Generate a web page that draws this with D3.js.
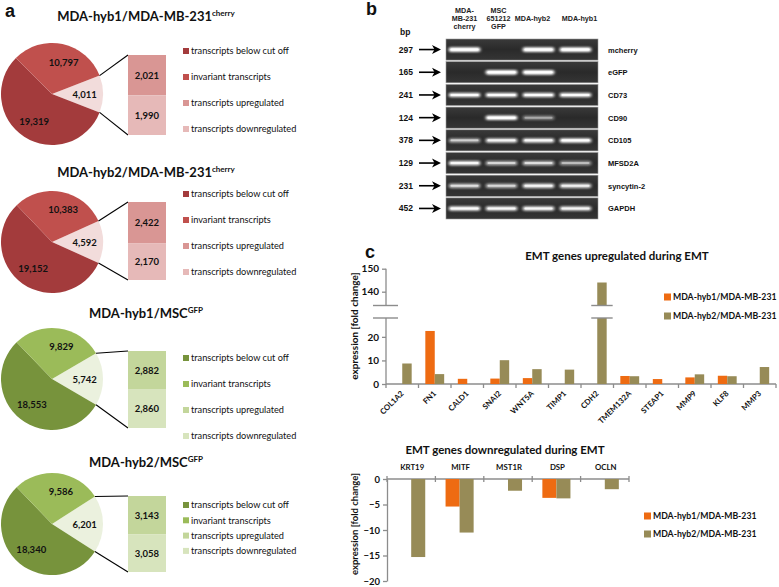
<!DOCTYPE html>
<html><head><meta charset="utf-8">
<script src="https://cdn.jsdelivr.net/npm/d3@7"></script>
<style>
body{margin:0;background:#fff;}
svg{display:block;}
</style></head><body>
<svg id="chart" width="779" height="587"></svg>
<script>
// ---------------- data ----------------
const pieTitleMain = ["MDA-hyb1/MDA-MB-231","MDA-hyb2/MDA-MB-231","MDA-hyb1/MSC","MDA-hyb2/MSC"];
const pieTitleSup = ["cherry","cherry","GFP","GFP"];
const belowCutOff = [19319,19152,18553,18340];
const invariant = [10797,10383,9829,9586];
const upregulated = [2021,2422,2882,3143];
const downregulated = [1990,2170,2860,3058];
const pieLegendLabels = ["transcripts below cut off","invariant transcripts","transcripts upregulated","transcripts downregulated"];

const gelLanes = [["MDA-","MB-231","cherry"],["MSC","651212","GFP"],["MDA-hyb2"],["MDA-hyb1"]];
const gelGenes = ["mcherry","eGFP","CD73","CD90","CD105","MFSD2A","syncytin-2","GAPDH"];
const gelBp = ["297","165","241","124","378","129","231","452"];
const gelBands = [
  [1.0,0.0,1.0,1.0],
  [0.0,1.0,1.0,0.0],
  [0.9,0.9,0.9,0.9],
  [0.0,1.0,0.3,0.0],
  [0.5,0.8,0.85,0.95],
  [0.85,0.55,0.6,0.4],
  [0.6,0.55,0.8,0.75],
  [0.9,0.85,0.85,0.8]
];

const upGenes = ["COL1A2","FN1","CALD1","SNAI2","WNT5A","TIMP1","CDH2","TMEM132A","STEAP1","MMP9","KLF8","MMP3"];
const upHyb1 = [null,22.5,2.2,2.3,2.5,null,null,3.4,2.1,2.8,3.5,null];
const upHyb2 = [8.7,4.2,null,10.1,6.3,6.1,144,3.3,null,4.1,3.3,7.2];
const upTicksLow = [0,10,20];
const upTicksHigh = [140,150];

const downGenes = ["KRT19","MITF","MST1R","DSP","OCLN"];
const downHyb1 = [null,-5.4,null,-3.7,null];
const downHyb2 = [-15.3,-10.5,-2.3,-3.8,-2.0];
const downTicks = [0,-5,-10,-15,-20];
const seriesNames = ["MDA-hyb1/MDA-MB-231","MDA-hyb2/MDA-MB-231"];

// ---------------- drawing ----------------
const svg = d3.select("#chart");
const CAL = "Lato, 'Open Sans', sans-serif";
const ARI = "'Liberation Sans', Arial, sans-serif";
const fmt = d3.format(",");
const seriesColors = ["#ee6b12","#978b57"];

[["a",5,17],["b",366,15],["c",365,258]].forEach(([t,x,y])=>{
  svg.append("text").attr("x",x).attr("y",y).text(t)
    .attr("font-family",ARI).attr("font-weight","bold").attr("font-size",18).attr("fill","#111");
});

// ---------- panel a ----------
const redPal = {below:"#a33b3c", inv:"#c0504d", up:"#d99694", down:"#e6b9b8", other:"#f2dcdb"};
const greenPal = {below:"#77933c", inv:"#9bbb59", up:"#c3d69b", down:"#d7e4bd", other:"#ebf1de"};
const pieCX = 52, pieR = 51;
const pieCY = [94,242,379,524];
const titleY = [21,177,318,467];
const barTop = [55,202,351,496], barH = [80,78,77,76], barX = 128, barW = 38;
const legTop = [51,194,358,505], legStep = [26,26,26,15.3];

for (let i=0;i<4;i++){
  const pal = i<2 ? redPal : greenPal;
  const other = upregulated[i]+downregulated[i];
  const total = belowCutOff[i]+invariant[i]+other;
  const oa = 2*Math.PI*other/total;
  const s = Math.PI/2 - oa/2;
  const vals = [{v:other,c:pal.other},{v:belowCutOff[i],c:pal.below},{v:invariant[i],c:pal.inv}];
  const arcs = d3.pie().sort(null).value(d=>d.v).startAngle(s).endAngle(s+2*Math.PI)(vals);
  const g = svg.append("g").attr("transform",`translate(${pieCX},${pieCY[i]})`);
  const arc = d3.arc().innerRadius(0).outerRadius(pieR);
  g.selectAll("path").data(arcs).join("path").attr("d",arc).attr("fill",d=>d.data.c);
  const lab = d3.arc().innerRadius(pieR*0.64).outerRadius(pieR*0.64);
  g.selectAll("text").data(arcs).join("text")
    .attr("transform",(d,j)=>{const c=lab.centroid(d); return `translate(${c[0]+(j===2?5:0)},${c[1]+3.5})`;})
    .attr("text-anchor","middle").attr("font-family",CAL).attr("font-weight","bold")
    .attr("font-size",9.5).attr("fill","#111").text(d=>fmt(d.data.v));

  const p1 = [pieCX + pieR*Math.sin(s), pieCY[i] - pieR*Math.cos(s)];
  const p2 = [pieCX + pieR*Math.sin(s+oa), pieCY[i] - pieR*Math.cos(s+oa)];
  svg.append("line").attr("x1",p1[0]).attr("y1",p1[1]).attr("x2",barX).attr("y2",barTop[i])
    .attr("stroke","#000").attr("stroke-width",1.1);
  svg.append("line").attr("x1",p2[0]).attr("y1",p2[1]).attr("x2",barX).attr("y2",barTop[i]+barH[i])
    .attr("stroke","#000").attr("stroke-width",1.1);

  const by = d3.scaleLinear().domain([0,other]).range([barTop[i], barTop[i]+barH[i]]);
  const segs = [{a:0,b:upregulated[i],c:pal.up,v:upregulated[i]},
                {a:upregulated[i],b:other,c:pal.down,v:downregulated[i]}];
  segs.forEach(sg=>{
    svg.append("rect").attr("x",barX).attr("width",barW).attr("y",by(sg.a))
      .attr("height",by(sg.b)-by(sg.a)).attr("fill",sg.c);
    svg.append("text").attr("x",barX+barW/2).attr("y",(by(sg.a)+by(sg.b))/2+3.5)
      .attr("text-anchor","middle").attr("font-family",CAL).attr("font-weight","bold")
      .attr("font-size",9.5).attr("fill","#111").text(fmt(sg.v));
  });

  const t = svg.append("text").attr("x",146).attr("y",titleY[i]).attr("text-anchor","middle")
    .attr("font-family",CAL).attr("font-weight","bold").attr("fill","#111");
  t.append("tspan").attr("font-size",13).text(pieTitleMain[i]);
  t.append("tspan").attr("font-size",8).attr("dy",-5).text(pieTitleSup[i]);

  const legCols = [pal.below,pal.inv,pal.up,pal.down];
  pieLegendLabels.forEach((l,j)=>{
    const yy = legTop[i]+j*legStep[i];
    svg.append("rect").attr("x",183).attr("y",yy-3).attr("width",6).attr("height",6).attr("fill",legCols[j]);
    svg.append("text").attr("x",191).attr("y",yy+3.3).attr("font-family",CAL)
      .attr("font-size",9.2).attr("fill","#111").text(l);
  });
}

// ---------- panel b: gel ----------
const defs = svg.append("defs");
const f = defs.append("filter").attr("id","blur").attr("x","-30%").attr("y","-150%").attr("width","160%").attr("height","400%");
f.append("feGaussianBlur").attr("stdDeviation","1.6 1.1");
const gg = defs.append("linearGradient").attr("id","gelbg").attr("x1",0).attr("y1",0).attr("x2",0).attr("y2",1);
gg.append("stop").attr("offset","0%").attr("stop-color","#3a3a3a");
gg.append("stop").attr("offset","50%").attr("stop-color","#2a2a2a");
gg.append("stop").attr("offset","100%").attr("stop-color","#353535");

const laneX = d3.scaleBand().domain(d3.range(gelLanes.length)).range([446,594]);
const rowY = d3.scaleBand().domain(gelGenes).range([39,219]).paddingInner(0.07);
const headerShift = [0,-3,-6,4];

svg.append("text").attr("x",400).attr("y",35).text("bp").attr("font-family",ARI)
  .attr("font-weight","bold").attr("font-size",8.5).attr("fill","#111");
gelLanes.forEach((lines,k)=>{
  const cx = laneX(k)+laneX.bandwidth()/2+headerShift[k];
  const y0 = lines.length===1 ? 21 : 13;
  lines.forEach((ln,m)=>{
    svg.append("text").attr("x",cx).attr("y",y0+m*8).attr("text-anchor","middle")
      .attr("font-family",ARI).attr("font-weight","bold").attr("font-size",7.2)
      .attr("fill","#222").text(ln);
  });
});

gelGenes.forEach((gname,r)=>{
  const y = rowY(gname), h = rowY.bandwidth(), cy = y+h/2;
  svg.append("rect").attr("x",446).attr("y",y).attr("width",152).attr("height",h)
    .attr("fill","url(#gelbg)").attr("stroke","#9a9a9a").attr("stroke-width",0.6);
  gelBands[r].forEach((v,k)=>{
    if (v<=0) return;
    const cx = laneX(k)+laneX.bandwidth()/2;
    svg.append("rect").attr("x",cx-16).attr("y",cy-2.2).attr("width",32).attr("height",4.6)
      .attr("rx",2.3).attr("fill","#ffffff").attr("opacity",0.15+0.85*v).attr("filter","url(#blur)");
    svg.append("rect").attr("x",cx-14).attr("y",cy-1).attr("width",28).attr("height",2)
      .attr("rx",1).attr("fill","#ffffff").attr("opacity",0.1+0.8*v);
  });
  svg.append("text").attr("x",413).attr("y",cy+3).attr("text-anchor","end").attr("font-family",ARI)
    .attr("font-weight","bold").attr("font-size",8.5).attr("fill","#111").text(gelBp[r]);
  svg.append("line").attr("x1",419).attr("y1",cy).attr("x2",437).attr("y2",cy)
    .attr("stroke","#000").attr("stroke-width",1.6);
  svg.append("path").attr("d",`M${432},${cy-4.5} L${441},${cy} L${432},${cy+4.5} L${434.5},${cy} Z`)
    .attr("fill","#000");
  svg.append("text").attr("x",608).attr("y",cy+3).attr("font-family",ARI)
    .attr("font-weight","bold").attr("font-size",7.5).attr("fill","#111").text(gname);
});

// ---------- panel c: upregulated ----------
const axisCol = "#8c8c8c";
const xUp = d3.scaleBand().domain(upGenes).range([386,776]);
const yLow = d3.scaleLinear().domain([0,28]).range([384,318]);
const yHigh = d3.scaleLinear().domain([134,150]).range([305.5,268.7]);
const barWu = xUp.bandwidth()*0.29;

svg.append("text").attr("x",617).attr("y",260).attr("text-anchor","middle").attr("font-family",CAL)
  .attr("font-weight","bold").attr("font-size",11.5).attr("fill","#111").text("EMT genes upregulated during EMT");

function styleAxis(g, fs){
  g.selectAll("path,line").attr("stroke",axisCol).attr("stroke-width",1.3);
  g.selectAll("text").attr("font-family",CAL).attr("font-weight","bold").attr("font-size",fs||10).attr("fill","#111");
}
const aLow = svg.append("g").attr("transform","translate(386,0)")
  .call(d3.axisLeft(yLow).tickValues(upTicksLow).tickSize(4).tickSizeOuter(0)).call(styleAxis);
const aHigh = svg.append("g").attr("transform","translate(386,0)")
  .call(d3.axisLeft(yHigh).tickValues(upTicksHigh).tickSize(4).tickSizeOuter(0)).call(styleAxis);
aLow.select(".domain").attr("d",`M0,${yLow(0)}V${yLow.range()[1]}`);
aHigh.select(".domain").attr("d",`M0,${yHigh.range()[0]}V${yHigh(150)}`);

svg.append("line").attr("x1",386).attr("x2",776).attr("y1",yLow(0)).attr("y2",yLow(0))
  .attr("stroke",axisCol).attr("stroke-width",1.3);
upGenes.concat(["_end"]).forEach((gn,k)=>{
  const x = 386 + k*xUp.step();
  svg.append("line").attr("x1",x).attr("x2",x).attr("y1",yLow(0)).attr("y2",yLow(0)+4)
    .attr("stroke",axisCol).attr("stroke-width",1.3);
});

function drawBreak(x1,x2){
  svg.append("rect").attr("x",x1).attr("y",yHigh.range()[0]).attr("width",x2-x1)
    .attr("height",yLow.range()[1]-yHigh.range()[0]).attr("fill","#fff");
  [yHigh.range()[0], yLow.range()[1]].forEach(yy=>{
    svg.append("line").attr("x1",x1).attr("x2",x2).attr("y1",yy).attr("y2",yy)
      .attr("stroke",axisCol).attr("stroke-width",1.4);
  });
}

[upHyb1, upHyb2].forEach((ser,si)=>{
  ser.forEach((v,k)=>{
    if (v==null) return;
    const x = xUp(upGenes[k]) + xUp.bandwidth()/2 - barWu + si*barWu;
    if (v <= yLow.domain()[1]){
      svg.append("rect").attr("x",x).attr("width",barWu).attr("y",yLow(v)).attr("height",yLow(0)-yLow(v))
        .attr("fill",seriesColors[si]);
    } else {
      svg.append("rect").attr("x",x).attr("width",barWu).attr("y",yLow.range()[1])
        .attr("height",yLow(0)-yLow.range()[1]).attr("fill",seriesColors[si]);
      svg.append("rect").attr("x",x).attr("width",barWu).attr("y",yHigh(v))
        .attr("height",yHigh.range()[0]-yHigh(v)).attr("fill",seriesColors[si]);
      drawBreak(x-6, x+barWu+6);
    }
  });
});
drawBreak(373,398);

upGenes.forEach(gn=>{
  const cx = xUp(gn)+xUp.bandwidth()/2+2;
  svg.append("text").attr("transform",`translate(${cx},${yLow(0)+10}) rotate(-45)`)
    .attr("text-anchor","end").attr("font-family",CAL).attr("font-weight","bold")
    .attr("font-size",7.8).attr("fill","#111").text(gn);
});

svg.append("text").attr("transform",`translate(358,326) rotate(-90)`).attr("text-anchor","middle")
  .attr("font-family",CAL).attr("font-weight","bold").attr("font-size",10).attr("fill","#111")
  .text("expression [fold change]");

seriesNames.forEach((nm,si)=>{
  const yy = 297 + si*19;
  svg.append("rect").attr("x",664).attr("y",yy-3.5).attr("width",7).attr("height",7).attr("fill",seriesColors[si]);
  svg.append("text").attr("x",673).attr("y",yy+3.3).attr("font-family",CAL).attr("font-weight","bold")
    .attr("font-size",8.7).attr("fill","#111").text(nm);
});

// ---------- panel c: downregulated ----------
const xDn = d3.scaleBand().domain(downGenes).range([387,629]);
const yDn = d3.scaleLinear().domain([-20,0]).range([581,479]);
const barWd = xDn.bandwidth()*0.29;

svg.append("text").attr("x",505).attr("y",454).attr("text-anchor","middle").attr("font-family",CAL)
  .attr("font-weight","bold").attr("font-size",11.5).attr("fill","#111").text("EMT genes downregulated during EMT");

svg.append("g").attr("transform","translate(387,0)")
  .call(d3.axisLeft(yDn).tickValues(downTicks).tickSize(4).tickSizeOuter(0).tickFormat(d3.format("d")))
  .call(g=>styleAxis(g,9.5));
svg.append("line").attr("x1",387).attr("x2",629).attr("y1",yDn(0)).attr("y2",yDn(0))
  .attr("stroke",axisCol).attr("stroke-width",1.3);
downGenes.concat(["_end"]).forEach((gn,k)=>{
  const x = 387 + k*xDn.step();
  svg.append("line").attr("x1",x).attr("x2",x).attr("y1",yDn(0)-3).attr("y2",yDn(0)+3)
    .attr("stroke",axisCol).attr("stroke-width",1.3);
});

[downHyb1, downHyb2].forEach((ser,si)=>{
  ser.forEach((v,k)=>{
    if (v==null) return;
    const x = xDn(downGenes[k]) + xDn.bandwidth()/2 - barWd + si*barWd;
    svg.append("rect").attr("x",x).attr("width",barWd).attr("y",yDn(0)).attr("height",yDn(v)-yDn(0))
      .attr("fill",seriesColors[si]);
  });
});
downGenes.forEach(gn=>{
  svg.append("text").attr("x",xDn(gn)+xDn.bandwidth()/2+1).attr("y",470).attr("text-anchor","middle")
    .attr("font-family",CAL).attr("font-weight","bold").attr("font-size",7.8).attr("fill","#111").text(gn);
});
svg.append("text").attr("transform",`translate(358,524) rotate(-90)`).attr("text-anchor","middle")
  .attr("font-family",CAL).attr("font-weight","bold").attr("font-size",9.5).attr("fill","#111")
  .text("expression [fold change]");
seriesNames.forEach((nm,si)=>{
  const yy = 516 + si*18;
  svg.append("rect").attr("x",644).attr("y",yy-3.5).attr("width",7).attr("height",7).attr("fill",seriesColors[si]);
  svg.append("text").attr("x",653).attr("y",yy+3.3).attr("font-family",CAL).attr("font-weight","bold")
    .attr("font-size",8.7).attr("fill","#111").text(nm);
});
</script>
</body></html>
